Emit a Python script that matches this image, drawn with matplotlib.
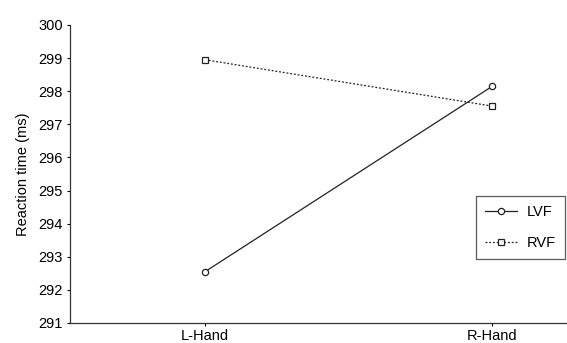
import matplotlib
matplotlib.use("Agg")
import matplotlib.pyplot as plt

categories = ["L-Hand", "R-Hand"]
lvf = [292.55, 298.15]
rvf = [298.95, 297.55]
yticks = [291, 292, 293, 294, 295, 296, 297, 298, 299, 300]

plt.rcParams['font.family'] = ['Liberation Sans', 'DejaVu Sans']
fig = plt.figure(figsize=(5.67, 3.43), dpi=100)
ax = fig.add_axes([70/567, 1-323/343, 497/567, (323-25)/343])
x = list(range(len(categories)))
ax.plot(x, lvf, color='#222222', lw=0.9, ls='-', marker='o', ms=4.5,
        mfc='white', mec='#222222', mew=0.9, label='LVF')
ax.plot(x, rvf, color='#222222', lw=0.9, ls=(0, (1.5, 1.5)), marker='s', ms=4.5,
        mfc='white', mec='#222222', mew=0.9, label='RVF')
ax.set_xlim(-0.47, 1.26)
ax.set_ylim(291, 300)
ax.set_yticks(yticks)
ax.set_xticks(x)
ax.set_xticklabels(categories, fontsize=10.5)
ax.tick_params(axis='y', labelsize=10.5, length=2, pad=3)
ax.tick_params(axis='x', length=2, pad=2)
ax.set_ylabel("Reaction time (ms)", fontsize=10.5, labelpad=6)
for s in ['top', 'right']:
    ax.spines[s].set_visible(False)
for s in ['left', 'bottom']:
    ax.spines[s].set_color('#333333')
    ax.spines[s].set_linewidth(0.9)
leg = ax.legend(loc='upper right', bbox_to_anchor=((565-70)/497, (323-196)/298),
                fontsize=10.5, frameon=True, fancybox=False, edgecolor='#333333',
                handlelength=2.2, labelspacing=1.2, borderpad=0.6, handletextpad=0.7,
                borderaxespad=0)
leg.get_frame().set_linewidth(0.9)
fig.savefig("out.png", dpi=100)
